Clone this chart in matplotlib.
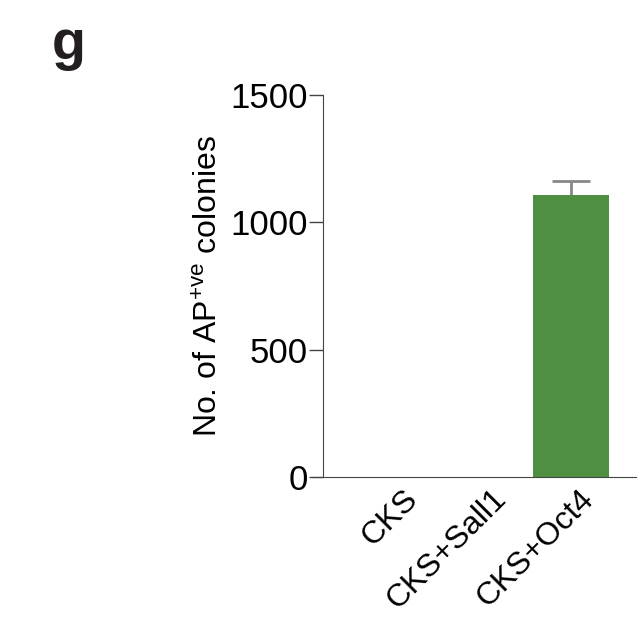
import matplotlib
matplotlib.use('Agg')
import matplotlib.pyplot as plt
import matplotlib.transforms as mtrans
import numpy as np

plt.rcParams['font.family'] = ['Liberation Sans', 'DejaVu Sans']
plt.rcParams['mathtext.fontset'] = 'custom'
plt.rcParams['mathtext.rm'] = 'Liberation Sans'

categories = ['CKS', 'CKS+Sall1', 'CKS+Oct4']
values = [0, 0, 1107]
errors = [0, 0, 57]

fig = plt.figure(figsize=(6.37, 6.23), dpi=100)
ax = fig.add_axes([323/637, 1-477/623, 1-323/637, (477-95)/623])

x = np.arange(len(values))
ax.bar(x, values, width=0.87, color='#4f8f42', zorder=2)
# error bar (upper only)
i = 2
ax.vlines(x[i], values[i], values[i] + errors[i], color='#888888', lw=2, zorder=1)
ax.hlines(values[i] + errors[i], x[i] - 0.22, x[i] + 0.22, color='#888888', lw=2, zorder=1)

ax.set_xlim(-0.82, 2.75)
ax.set_ylim(0, 1500)
ax.set_yticks([0, 500, 1000, 1500])
ax.tick_params(axis='y', labelsize=25, length=10, width=1, color='#444444', pad=1)
ax.tick_params(axis='x', length=0, labelsize=23, pad=5)
ax.set_xticks(x)
ax.set_xticklabels(categories, rotation=45, ha='right', rotation_mode='anchor')
offset = mtrans.ScaledTranslation(8/100, 0, fig.dpi_scale_trans)
for lab in ax.get_xticklabels():
    lab.set_transform(lab.get_transform() + offset)

for s in ['top', 'right']:
    ax.spines[s].set_visible(False)
ax.spines['left'].set_color('#444444')
ax.spines['bottom'].set_color('#444444')
ax.spines['bottom'].set_bounds(-0.82 - 10/88, 2.75)
ax.spines['bottom'].set_clip_on(False)

ax.set_ylabel(r'No. of AP$^{\mathregular{+ve}}$ colonies', fontsize=23, labelpad=4)

fig.text(52/637, 1-59/623, 'g', fontsize=40, fontweight='bold', color='#231f20')

fig.savefig('out.png', dpi=100)
